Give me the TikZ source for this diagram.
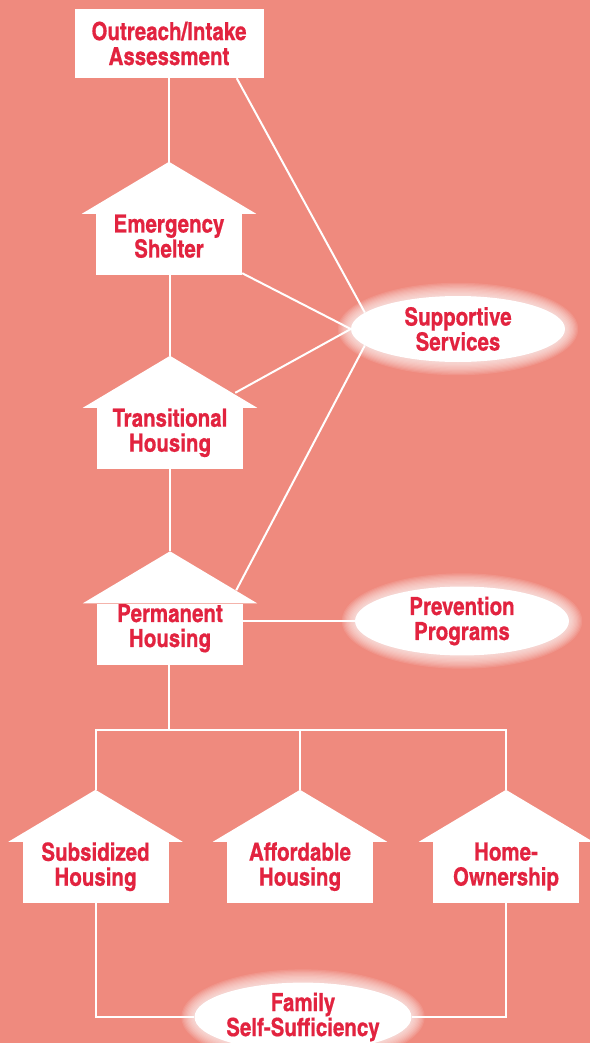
\documentclass[tikz,border=0pt]{standalone}
\usepackage{fontspec}
\newfontfamily\boxfont[FakeBold=0.6]{texgyreheroscn-bold.otf}
\usetikzlibrary{shapes.geometric,calc}

\definecolor{salmon}{HTML}{EF8A7E}
\definecolor{labelred}{HTML}{E2233F}

\pgfdeclarelayer{bg}
\pgfdeclarelayer{links}
\pgfsetlayers{bg,links,main}

\tikzset{
  label text/.style={text=labelred, font=\boxfont\fontsize{25}{25}\selectfont, align=center, inner sep=0pt},
  intake/.style={label text, fill=white, minimum width=189pt, minimum height=69pt},
  housebody/.style={label text, fill=white, minimum width=146pt, minimum height=61pt, text depth=17pt},
  service/.style={label text, ellipse, fill=white, minimum width=214pt, minimum height=66pt},
  link/.style={draw=white, line width=2pt},
}

% roof on top of a house body, with its peak as (name-top)
\newcommand\roof[1]{%
  \fill[white] ($(#1.north west)+(-14,0)$) -- ($(#1.north)+(0,-52)$) -- ($(#1.north east)+(14,0)$) -- cycle;
  \coordinate (#1-top) at ($(#1.north)+(0,-52)$);}
% soft halo round an ellipse
\newcommand\halo[1]{%
  \foreach \g in {1,...,10}
    \fill[white, opacity=0.1] let \p1=($(#1.east)-(#1.center)$), \p2=($(#1.north)-(#1.center)$) in
      (#1.center) ellipse ({\x1+\g*1.3pt} and {\y2+\g*1.3pt});}

\begin{document}
\begin{tikzpicture}[x=1pt, y=-1pt]
    \useasboundingbox (0,0) rectangle (590,1043);
    \begin{pgfonlayer}{bg}
      \fill[salmon] (0,0) rectangle (590,1043);
    \end{pgfonlayer}

    % Nodes
    \node (intake) [intake] at (169,43.5) {Outreach/Intake\\Assessment};
    \node (emergency) [housebody] at (169,244.5) {Emergency\\Shelter};
    \roof{emergency}
    \node (transitional) [housebody] at (170,438.5) {Transitional\\Housing};
    \roof{transitional}
    \node (permanent) [housebody] at (170,634) {Permanent\\Housing};
    \roof{permanent}
    \node (subsidized) [housebody] at (95.5,872.5) {Subsidized\\Housing};
    \roof{subsidized}
    \node (affordable) [housebody] at (300,872.5) {Affordable\\Housing};
    \roof{affordable}
    \node (homeowner) [housebody] at (506,872.5) {Home-\\Ownership};
    \roof{homeowner}
    \node (support) [service] at (458,329) {Supportive\\Services};
    \node (prevention) [service] at (462,621) {Prevention\\Programs};
    \node (family) [service] at (303,1017) {Family\\Self-Sufficiency};
    \coordinate (split) at (169,730);

    \begin{pgfonlayer}{links}
      % Lines
      \draw[link] (intake.south -| emergency-top) -- (emergency-top);
      \draw[link] (emergency.south -| transitional-top) -- (transitional-top);
      \draw[link] (transitional.south -| permanent-top) -- (permanent-top);
      \draw[link] (permanent.south -| split) -- (split);
      \draw[link] (subsidized-top) -- (subsidized-top |- split) -- (homeowner-top |- split) -- (homeowner-top);
      \draw[link] (affordable-top) -- (affordable-top |- split);
      \draw[link] (intake.south east) ++(-27,0) -- (support.170);
      \draw[link] (emergency.south east) ++(0,-2) -- (support.west);
      \draw[link] ($(transitional.north east)+(-8,-15)$) -- (support.west);
      \draw[link] ($(permanent.north east)+(-7,-13)$) -- (support.190);
      \draw[link] (permanent.east |- prevention) -- (prevention);
      \draw[link] (subsidized.south) |- (family);
      \draw[link] (homeowner.south) |- (family);
      % Halos
      \halo{support}
      \halo{prevention}
      \halo{family}
    \end{pgfonlayer}
\end{tikzpicture}
\end{document}
